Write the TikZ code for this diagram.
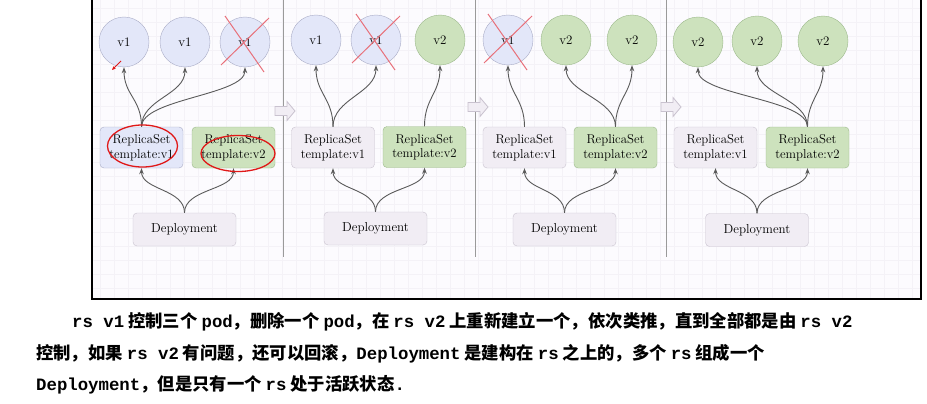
\documentclass[tikz,border=0pt]{standalone}
\usepackage{fontspec}
\usetikzlibrary{arrows.meta,calc}
\newfontfamily\cjk{Noto Sans CJK SC}
\newfontfamily\latmono{Liberation Mono}
\newcommand\lat[1]{{\latmono\bfseries #1}}
\definecolor{podblue}{HTML}{E3E7F9}
\definecolor{podblueline}{HTML}{A9ACC6}
\definecolor{podgreen}{HTML}{CDE2BD}
\definecolor{podgreenline}{HTML}{9CB98C}
\definecolor{lavfill}{HTML}{F1EDF4}
\definecolor{lavline}{HTML}{C9C2CF}
\definecolor{arrowgrey}{HTML}{5A5A5A}
\definecolor{divgrey}{HTML}{9A9A9A}
\definecolor{gridc}{HTML}{F4F2F7}
\definecolor{bgc}{HTML}{FCFBFE}
\definecolor{crossred}{HTML}{E8707A}
\definecolor{inkred}{HTML}{E01818}
\tikzset{
  pod/.style={circle, draw, minimum size=50pt, inner sep=0pt, font=\fontsize{13}{15}\selectfont},
  podv1/.style={pod, fill=podblue, draw=podblueline},
  podv2/.style={pod, fill=podgreen, draw=podgreenline},
  rsbox/.style={rectangle, rounded corners=4pt, draw, minimum width=83pt, minimum height=41pt, inner sep=0pt, align=center, font=\fontsize{12.8}{14.5}\selectfont},
  rsblue/.style={rsbox, fill=podblue, draw=podblueline},
  rslav/.style={rsbox, fill=lavfill, draw=lavline},
  rsgreen/.style={rsbox, fill=podgreen, draw=podgreenline},
  depbox/.style={rectangle, rounded corners=4pt, draw=lavline, fill=lavfill, minimum width=103pt, minimum height=33pt, inner sep=0pt, font=\fontsize{13}{15}\selectfont},
  link/.style={draw=arrowgrey, line width=0.9pt, -{Stealth[length=6pt,width=4.5pt]}},
  divider/.style={draw=divgrey, line width=1pt},
  blockarrow/.style={draw=lavline, fill=lavfill, line width=0.8pt},
  cross/.style={draw=crossred, line width=1pt},
  ink/.style={draw=inkred, line width=1.3pt},
  gridline/.style={draw=gridc, line width=0.5pt},
  para/.style={anchor=west, inner sep=0pt, font=\cjk\bfseries\fontsize{17.35}{20}\selectfont}
}
\newcommand\crossout[1]{%
  \draw[cross] ($(#1)+(-20,-26)$) -- ($(#1)+(19,30)$);
  \draw[cross] ($(#1)+(24,-24)$) -- ($(#1)+(-24,23)$);}
\begin{document}
\begin{tikzpicture}[x=1pt,y=-1pt]
\useasboundingbox (0,0) rectangle (927,404);
\fill[white] (0,0) rectangle (927,404);
% background with faint grid
\fill[bgc] (92,0) rectangle (921,299);
\foreach \gx in {100,114,...,914}{ \draw[gridline] (\gx,0) -- (\gx,298); }
\foreach \gy in {8,22,...,296}{ \draw[gridline] (93,\gy) -- (920,\gy); }
% frame
\draw[black, line width=1.5pt] (92,0) -- (92,299) -- (921,299) -- (921,0);
% dividers
\draw[divider] (283,0) -- (283,257);
\draw[divider] (475,0) -- (475,257);
\draw[divider] (666,0) -- (666,257);
% block arrows
\foreach \ax/\ay in {275/111, 468/107, 661/107}{
  \draw[blockarrow] (\ax,\ay-4.5) -- (\ax+12,\ay-4.5) -- (\ax+12,\ay-9.5) -- (\ax+20,\ay) -- (\ax+12,\ay+9.5) -- (\ax+12,\ay+4.5) -- (\ax,\ay+4.5) -- cycle;
}
% ---------- panel 1 ----------
\node[podv1] (a1) at (124,42) {v1};
\node[podv1] (a2) at (185,42) {v1};
\node[podv1] (a3) at (245,42) {v1};
\node[rsblue] (ar1) at (141.5,147.5) {ReplicaSet\\template:v1};
\node[rsgreen] (ar2) at (233.5,147.5) {ReplicaSet\\template:v2};
\node[depbox] (ad) at (184.5,229.5) {Deployment};
\foreach \p in {a1,a2,a3}{
  \draw[link] (ar1.north) .. controls +(0,-28) and +(0,28) .. (\p.south);
}
\draw[link] (ad.north) .. controls +(0,-24) and +(0,22) .. (ar1.south);
\draw[link] (ad.north) .. controls +(0,-24) and +(0,22) .. (ar2.south);
\crossout{a3}
% ---------- panel 2 ----------
\node[podv1] (b1) at (316,40) {v1};
\node[podv1] (b2) at (376,40) {v1};
\node[podv2] (b3) at (440,40) {v2};
\node[rslav] (br1) at (333,147.5) {ReplicaSet\\template:v1};
\node[rsgreen] (br2) at (424.5,147) {ReplicaSet\\template:v2};
\node[depbox] (bd) at (375.5,228.5) {Deployment};
\draw[link] (br1.north) .. controls +(0,-28) and +(0,28) .. (b1.south);
\draw[link] (br1.north) .. controls +(0,-28) and +(0,28) .. (b2.south);
\draw[link] (br2.north) .. controls +(0,-28) and +(0,28) .. (b3.south);
\draw[link] (bd.north) .. controls +(0,-24) and +(0,22) .. (br1.south);
\draw[link] (bd.north) .. controls +(0,-24) and +(0,22) .. (br2.south);
\crossout{b2}
% ---------- panel 3 ----------
\node[podv1] (c1) at (508,40) {v1};
\node[podv2] (c2) at (566,40) {v2};
\node[podv2] (c3) at (632,40) {v2};
\node[rslav] (cr1) at (524.5,147.5) {ReplicaSet\\template:v1};
\node[rsgreen] (cr2) at (615.5,147.5) {ReplicaSet\\template:v2};
\node[depbox] (cd) at (564.5,229.5) {Deployment};
\draw[link] (cr1.north) .. controls +(0,-28) and +(0,28) .. (c1.south);
\draw[link] (cr2.north) .. controls +(0,-28) and +(0,28) .. (c2.south);
\draw[link] (cr2.north) .. controls +(0,-28) and +(0,28) .. (c3.south);
\draw[link] (cd.north) .. controls +(0,-24) and +(0,22) .. (cr1.south);
\draw[link] (cd.north) .. controls +(0,-24) and +(0,22) .. (cr2.south);
\crossout{c1}
% ---------- panel 4 ----------
\node[podv2] (d1) at (698,42) {v2};
\node[podv2] (d2) at (757,41) {v2};
\node[podv2] (d3) at (823,41) {v2};
\node[rslav] (dr1) at (715.5,147.5) {ReplicaSet\\template:v1};
\node[rsgreen] (dr2) at (807.5,147.5) {ReplicaSet\\template:v2};
\node[depbox] (dd) at (757,230) {Deployment};
\foreach \p in {d1,d2,d3}{
  \draw[link] (dr2.north) .. controls +(0,-28) and +(0,28) .. (\p.south);
}
\draw[link] (dd.north) .. controls +(0,-24) and +(0,22) .. (dr1.south);
\draw[link] (dd.north) .. controls +(0,-24) and +(0,22) .. (dr2.south);
% ---------- red ink annotations ----------
\draw[ink] (142.5,146) ellipse [x radius=35, y radius=21];
\draw[ink] (238,153.5) ellipse [x radius=37, y radius=18];
\coordinate (inkA) at (121,61);
\coordinate (inkB) at (112,70);
\draw[draw=inkred, line width=0.9pt, -{Stealth[length=4pt,width=3.5pt]}] (inkA) -- (inkB);
% ---------- paragraph ----------
\node[para] (t1) at (72,322) {\lat{rs v1} 控制三个 \lat{pod}，删除一个 \lat{pod}，在 \lat{rs v2} 上重新建立一个，依次类推，直到全部都是由 \lat{rs v2}};
\node[para] (t2) at (36,354) {控制，如果 \lat{rs v2} 有问题，还可以回滚，\lat{Deployment} 是建构在 \lat{rs} 之上的，多个 \lat{rs} 组成一个};
\node[para] (t3) at (36,385) {\lat{Deployment}，但是只有一个 \lat{rs} 处于活跃状态\lat{.}};
\end{tikzpicture}
\end{document}
